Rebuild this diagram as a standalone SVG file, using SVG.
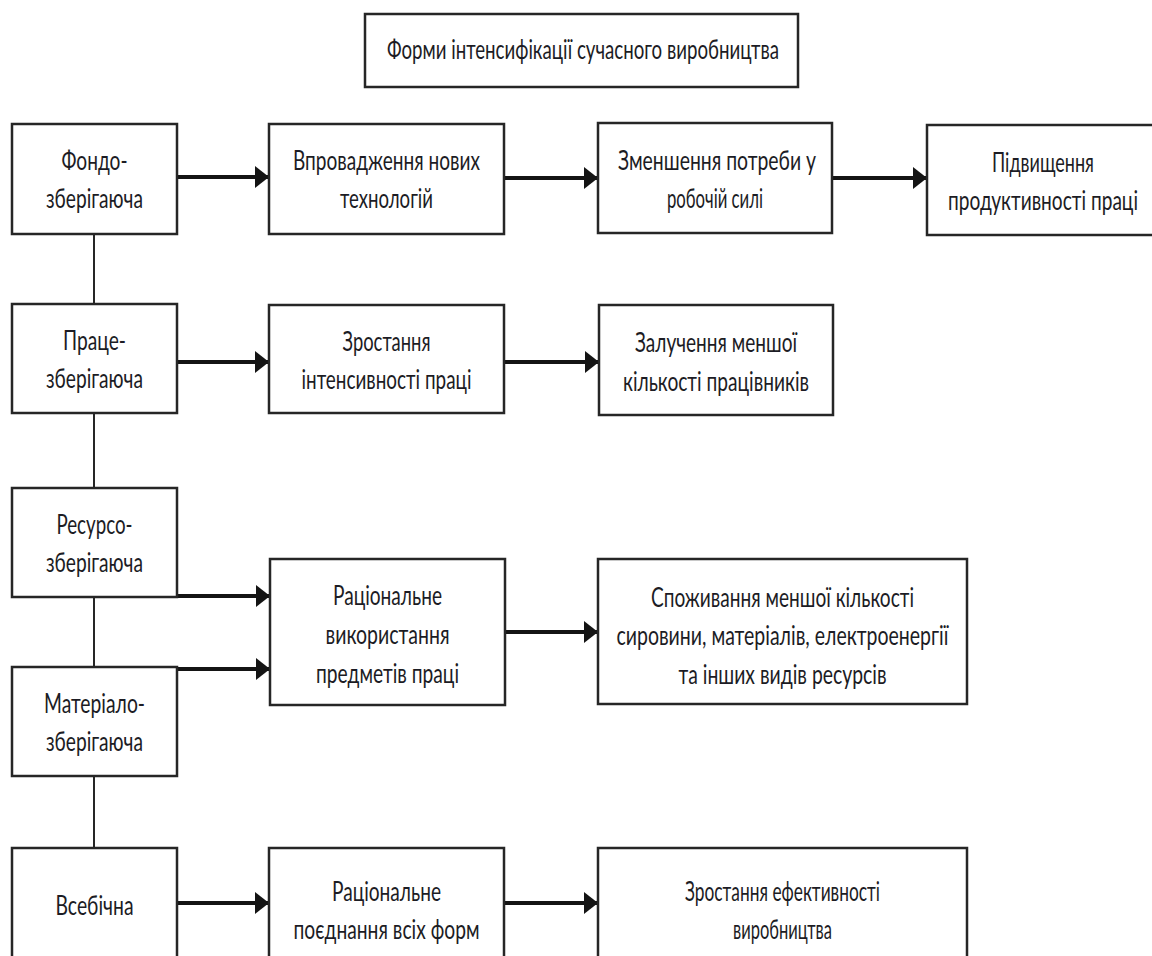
<svg xmlns="http://www.w3.org/2000/svg" width="1152" height="956" viewBox="0 0 1152 956">
<defs>
<style>
.box{fill:#fff;stroke:#262626;stroke-width:2.5}
.t{font-family:Lato,"Open Sans","Liberation Sans",sans-serif;font-size:27px;fill:#1c1c24;text-anchor:middle}
.arr{stroke:#141414;stroke-width:4;fill:none}
.ln{stroke:#262626;stroke-width:2;fill:none}
</style>
<marker id="ah" viewBox="0 0 14 22" refX="14" refY="11" markerWidth="14" markerHeight="22" markerUnits="userSpaceOnUse" orient="auto">
<path d="M0,0 L14,11 L0,22 Z" fill="#141414"/>
</marker>
</defs>
<rect width="1152" height="956" fill="#fff"/>

<g id="connectors">
<line class="ln" x1="94" y1="234" x2="94" y2="304"/>
<line class="ln" x1="94" y1="413" x2="94" y2="488"/>
<line class="ln" x1="94" y1="597" x2="94" y2="667"/>
<line class="ln" x1="94" y1="776" x2="94" y2="848"/>
<line class="arr" x1="177" y1="177" x2="269" y2="177" marker-end="url(#ah)"/>
<line class="arr" x1="504" y1="178" x2="598" y2="178" marker-end="url(#ah)"/>
<line class="arr" x1="832" y1="178" x2="927" y2="178" marker-end="url(#ah)"/>
<line class="arr" x1="177" y1="362" x2="269" y2="362" marker-end="url(#ah)"/>
<line class="arr" x1="504" y1="362" x2="599" y2="362" marker-end="url(#ah)"/>
<line class="arr" x1="177" y1="596" x2="270" y2="596" marker-end="url(#ah)"/>
<line class="arr" x1="177" y1="669" x2="270" y2="669" marker-end="url(#ah)"/>
<line class="arr" x1="505" y1="632" x2="598" y2="632" marker-end="url(#ah)"/>
<line class="arr" x1="177" y1="903" x2="269" y2="903" marker-end="url(#ah)"/>
<line class="arr" x1="504" y1="903" x2="598" y2="903" marker-end="url(#ah)"/>
</g>

<g id="title">
<rect class="box" x="365" y="14" width="433" height="73"/>
<text class="t" x="583" y="59" textLength="392" lengthAdjust="spacingAndGlyphs">Форми інтенсифікації сучасного виробництва</text>
</g>

<g id="fondo">
<rect class="box" x="12" y="124" width="165" height="110"/>
<text class="t" x="94.5" y="170" textLength="66" lengthAdjust="spacingAndGlyphs">Фондо-</text>
<text class="t" x="94.5" y="208" textLength="97" lengthAdjust="spacingAndGlyphs">зберігаюча</text>
</g>
<g id="vprovadzhennia">
<rect class="box" x="269" y="124" width="235" height="110"/>
<text class="t" x="386.5" y="170" textLength="187" lengthAdjust="spacingAndGlyphs">Впровадження нових</text>
<text class="t" x="386.5" y="208" textLength="93" lengthAdjust="spacingAndGlyphs">технологій</text>
</g>
<g id="zmenshennia">
<rect class="box" x="598" y="123" width="234" height="110"/>
<text class="t" x="717" y="170" textLength="198" lengthAdjust="spacingAndGlyphs">Зменшення потреби у</text>
<text class="t" x="715" y="208" textLength="96" lengthAdjust="spacingAndGlyphs">робочій силі</text>
</g>
<g id="pidvyshchennia">
<rect class="box" x="927" y="125" width="231" height="110"/>
<text class="t" x="1043" y="172" textLength="102" lengthAdjust="spacingAndGlyphs">Підвищення</text>
<text class="t" x="1043" y="210" textLength="190" lengthAdjust="spacingAndGlyphs">продуктивності праці</text>
</g>

<g id="prats">
<rect class="box" x="12" y="304" width="165" height="109"/>
<text class="t" x="94.5" y="350" textLength="63" lengthAdjust="spacingAndGlyphs">Праце-</text>
<text class="t" x="94.5" y="388" textLength="97" lengthAdjust="spacingAndGlyphs">зберігаюча</text>
</g>
<g id="zrostannia-int">
<rect class="box" x="269" y="305" width="235" height="108"/>
<text class="t" x="386.5" y="351" textLength="88" lengthAdjust="spacingAndGlyphs">Зростання</text>
<text class="t" x="386.5" y="389" textLength="170" lengthAdjust="spacingAndGlyphs">інтенсивності праці</text>
</g>
<g id="zaluchennia">
<rect class="box" x="599" y="305" width="234" height="110"/>
<text class="t" x="716" y="352" textLength="162" lengthAdjust="spacingAndGlyphs">Залучення меншої</text>
<text class="t" x="716" y="391" textLength="186" lengthAdjust="spacingAndGlyphs">кількості працівників</text>
</g>

<g id="resurso">
<rect class="box" x="12" y="488" width="165" height="109"/>
<text class="t" x="94.5" y="534" textLength="76" lengthAdjust="spacingAndGlyphs">Ресурсо-</text>
<text class="t" x="94.5" y="572" textLength="97" lengthAdjust="spacingAndGlyphs">зберігаюча</text>
</g>
<g id="ratsionalne-vykorystannia">
<rect class="box" x="270" y="559" width="235" height="146"/>
<text class="t" x="387.5" y="605" textLength="109" lengthAdjust="spacingAndGlyphs">Раціональне</text>
<text class="t" x="387.5" y="644" textLength="124" lengthAdjust="spacingAndGlyphs">використання</text>
<text class="t" x="387.5" y="683" textLength="143" lengthAdjust="spacingAndGlyphs">предметів праці</text>
</g>
<g id="spozhyvannia">
<rect class="box" x="598" y="559" width="369" height="145"/>
<text class="t" x="782.5" y="607" textLength="263" lengthAdjust="spacingAndGlyphs">Споживання меншої кількості</text>
<text class="t" x="782.5" y="645" textLength="332" lengthAdjust="spacingAndGlyphs">сировини, матеріалів, електроенергії</text>
<text class="t" x="782.5" y="684" textLength="208" lengthAdjust="spacingAndGlyphs">та інших видів ресурсів</text>
</g>

<g id="material">
<rect class="box" x="12" y="667" width="165" height="109"/>
<text class="t" x="94.5" y="713" textLength="101" lengthAdjust="spacingAndGlyphs">Матеріало-</text>
<text class="t" x="94.5" y="751" textLength="97" lengthAdjust="spacingAndGlyphs">зберігаюча</text>
</g>

<g id="vsebichna">
<rect class="box" x="12" y="848" width="165" height="112"/>
<text class="t" x="94.5" y="915" textLength="78" lengthAdjust="spacingAndGlyphs">Всебічна</text>
</g>
<g id="ratsionalne-poiednannia">
<rect class="box" x="269" y="848" width="235" height="112"/>
<text class="t" x="386.5" y="901" textLength="109" lengthAdjust="spacingAndGlyphs">Раціональне</text>
<text class="t" x="386.5" y="939" textLength="186" lengthAdjust="spacingAndGlyphs">поєднання всіх форм</text>
</g>
<g id="zrostannia-efekt">
<rect class="box" x="598" y="848" width="369" height="112"/>
<text class="t" x="782.5" y="901" textLength="195" lengthAdjust="spacingAndGlyphs">Зростання ефективності</text>
<text class="t" x="782.5" y="939" textLength="99" lengthAdjust="spacingAndGlyphs">виробництва</text>
</g>
</svg>
